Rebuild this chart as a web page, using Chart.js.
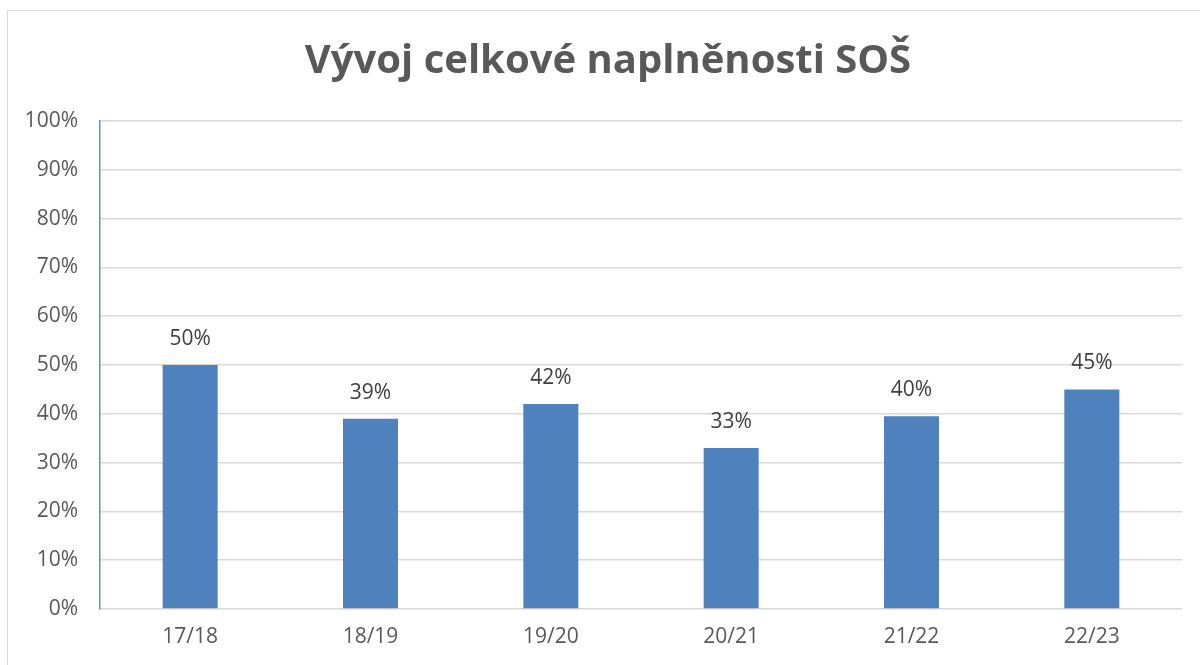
<!DOCTYPE html>
<html>
<head>
<meta charset="utf-8">
<script src="https://cdn.jsdelivr.net/npm/chart.js@4/dist/chart.umd.min.js"></script>
<style>
  html, body { margin: 0; padding: 0; background: #fff; }
  #wrap { position: relative; width: 1200px; height: 665px; overflow: hidden; }
  #frame { position: absolute; left: 7px; top: 10px; width: 1210px; height: 680px;
           border: 1.5px solid #d9d9d9; box-sizing: border-box; }
  canvas { position: absolute; left: 0; top: 0; }
</style>
</head>
<body>
<div id="wrap">
  <div id="frame"></div>
  <canvas id="chart" width="1200" height="665"></canvas>
</div>
<script>
// data
const years = ["17/18", "18/19", "19/20", "20/21", "21/22", "22/23"];
const fill = [50, 39, 42, 33, 39.5, 45];
const valueLabels = ["50%", "39%", "42%", "33%", "40%", "45%"];
const chartTitle = "Vývoj celkové naplněnosti SOŠ";

const font = "'Open Sans', 'Liberation Sans', sans-serif";

// labels above the bars + title (title sits a bit right of canvas centre, like the original)
const barLabels = {
    id: "barLabels",
    afterDatasetsDraw(chart) {
        const ctx = chart.ctx;
        const meta = chart.getDatasetMeta(0);
        ctx.save();
        ctx.font = "21px " + font;
        ctx.fillStyle = "#404040";
        ctx.textAlign = "center";
        ctx.textBaseline = "middle";
        meta.data.forEach(function (bar, i) {
            ctx.fillText(valueLabels[i], bar.x, bar.y - 26);
        });
        ctx.font = "bold 40px " + font;
        ctx.fillStyle = "#595959";
        ctx.fillText(chartTitle, 608, 62);
        ctx.restore();
    }
};

new Chart(document.getElementById("chart"), {
    type: "bar",
    data: {
        labels: years,
        datasets: [{
            data: fill,
            backgroundColor: "#4f81bd",
            barPercentage: 0.305,
            categoryPercentage: 1
        }]
    },
    options: {
        responsive: false,
        animation: false,
        layout: { padding: { left: 0, right: 18, top: 121, bottom: 0 } },
        plugins: {
            legend: { display: false },
            tooltip: { enabled: false },
            title: { display: false }
        },
        scales: {
            x: {
                grid: { display: false, drawTicks: false },
                border: { display: false },
                ticks: { color: "#595959", font: { family: font, size: 21 }, padding: 15 },
                afterFit(scale) { scale.height = 56; }
            },
            y: {
                min: 0,
                max: 100,
                grid: { color: "#d9d9d9", lineWidth: 1.5, drawTicks: false },
                border: { color: "#5b8fd0", width: 1.5 },
                ticks: {
                    stepSize: 10,
                    color: "#595959",
                    font: { family: font, size: 21 },
                    padding: 22,
                    callback: function (v) { return v + "%"; }
                },
                afterFit(scale) { scale.width = 100; }
            }
        }
    },
    plugins: [barLabels]
});
</script>
</body>
</html>
